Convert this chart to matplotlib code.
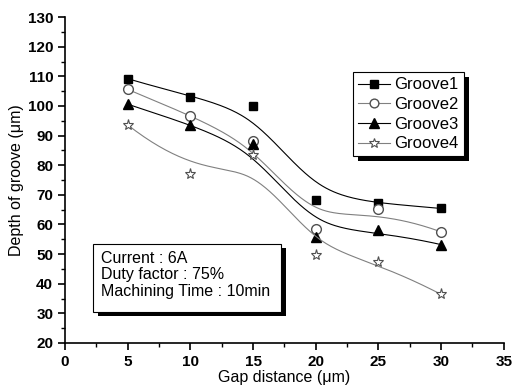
import numpy as np
import matplotlib
matplotlib.use("Agg")
import matplotlib.pyplot as plt
from matplotlib.patches import Rectangle
from matplotlib.ticker import MultipleLocator

plt.rcParams['font.family'] = ['Liberation Sans', 'DejaVu Sans']

gap = [5, 10, 15, 20, 25, 30]
groove1 = [109.2, 103.0, 100.0, 68.2, 67.3, 65.4]
groove2 = [105.6, 96.7, 88.3, 58.4, 65.2, 57.5]
groove3 = [100.6, 93.6, 87.0, 55.8, 58.0, 53.2]
groove4 = [93.6, 77.1, 83.5, 49.6, 47.4, 36.4]
labels = ['Groove1', 'Groove2', 'Groove3', 'Groove4']
info = "Current : 6A\nDuty factor : 75%\nMachining Time : 10min"


# B-spline smoothing like Origin's "B-Spline" connect
def bspline(xs, ys, k=3, n=200):
    pts = np.column_stack([xs, ys]).astype(float)
    m = len(pts)
    knots = np.concatenate([np.zeros(k), np.arange(m - k + 1), np.full(k, m - k)]).astype(float)
    ts = np.linspace(0, m - k, n)
    out = []
    for t in ts:
        i = np.searchsorted(knots, t, side='right') - 1
        i = min(i, m - 1)
        d = [pts[j + i - k].copy() for j in range(k + 1)]
        for r in range(1, k + 1):
            for j in range(k, r - 1, -1):
                a = (t - knots[j + i - k]) / (knots[j + 1 + i - r] - knots[j + i - k])
                d[j] = (1 - a) * d[j - 1] + a * d[j]
        out.append(d[k])
    out = np.array(out)
    return out[:, 0], out[:, 1]


fig = plt.figure(figsize=(5.12, 3.88), dpi=100)
ax = fig.add_axes([0.127, 0.116, 0.857, 0.840])

styles = [
    dict(color='black', marker='s', mfc='black', mec='black', ms=6),
    dict(color='#808080', marker='o', mfc='white', mec='#505050', ms=7),
    dict(color='black', marker='^', mfc='black', mec='black', ms=7.5),
    dict(color='#808080', marker='*', mfc='white', mec='#505050', ms=8, mew=0.8),
]
for ys, lab, st in zip([groove1, groove2, groove3, groove4], labels, styles):
    sx, sy = bspline(gap, ys)
    ax.plot(sx, sy, color=st['color'], lw=0.8)
    ax.plot(gap, ys, ls='none', marker=st['marker'], mfc=st['mfc'], mec=st['mec'],
            ms=st['ms'], mew=st.get('mew', 1.0))
    ax.plot([], [], color=st['color'], lw=0.8, marker=st['marker'], mfc=st['mfc'],
            mec=st['mec'], ms=st['ms'] * 0.9, mew=st.get('mew', 1.0), label=lab)

ax.set_xlim(0, 35)
ax.set_ylim(20, 130)
ax.xaxis.set_major_locator(MultipleLocator(5))
ax.xaxis.set_minor_locator(MultipleLocator(2.5))
ax.yaxis.set_major_locator(MultipleLocator(10))
ax.yaxis.set_minor_locator(MultipleLocator(5))
ax.spines['top'].set_visible(False)
ax.spines['right'].set_visible(False)
for s in ['left', 'bottom']:
    ax.spines[s].set_linewidth(1.2)
ax.tick_params(which='major', direction='out', length=5, width=1.2, labelsize=11)
ax.tick_params(which='minor', direction='out', length=3, width=1.0)
for t in ax.get_xticklabels() + ax.get_yticklabels():
    t.set_fontweight('bold')

ax.set_xlabel('Gap distance (μm)', fontsize=11.5, labelpad=1)
ax.set_ylabel('Depth of groove (μm)', fontsize=11.5, labelpad=3)

leg = ax.legend(loc='upper left', bbox_to_anchor=(0.656, 0.83), borderaxespad=0,
                fontsize=12, frameon=True, fancybox=False, edgecolor='black', framealpha=1,
                handlelength=1.9, handletextpad=0.3, borderpad=0.3, labelspacing=0.28)
leg.get_frame().set_linewidth(0.8)
leg.set_zorder(5)

txt = ax.text(0.082, 0.283, info, transform=ax.transAxes, fontsize=11.5, va='top',
              linespacing=1.12, zorder=5)

# black offset shadows behind the boxes
ax.add_patch(Rectangle((0.064, 0.095), 0.428, 0.209, transform=ax.transAxes,
                       facecolor='white', edgecolor='black', lw=0.8, zorder=4))
ax.add_patch(Rectangle((0.075, 0.082), 0.428, 0.209, transform=ax.transAxes,
                       facecolor='black', edgecolor='none', zorder=3))

fig.canvas.draw()
bb = leg.get_window_extent().transformed(ax.transAxes.inverted())
ax.add_patch(Rectangle((bb.x0 + 0.011, bb.y0 - 0.014), bb.width, bb.height,
                       transform=ax.transAxes, facecolor='black', edgecolor='none', zorder=3))

fig.savefig('out.png', dpi=100)
